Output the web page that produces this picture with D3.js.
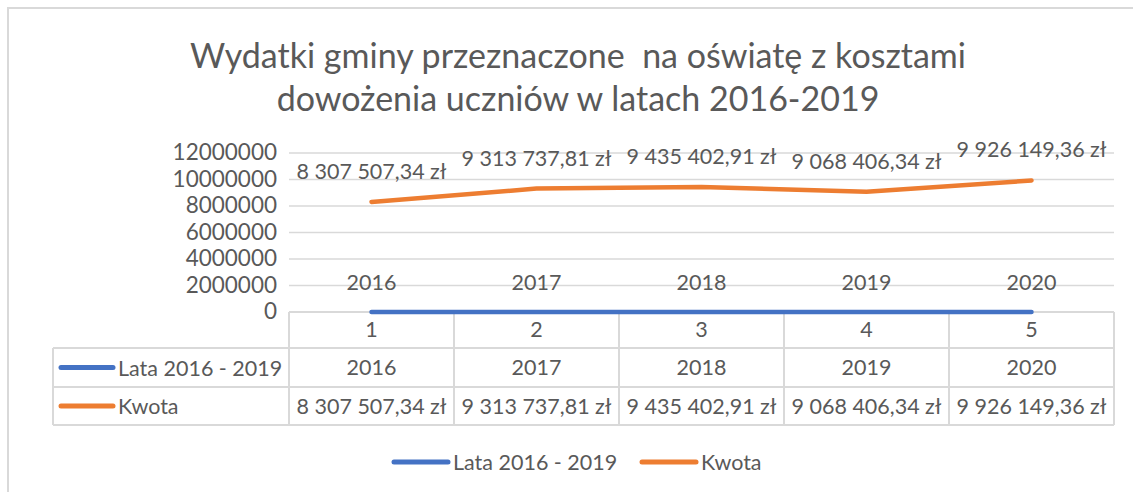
<!DOCTYPE html>
<html>
<head>
<meta charset="utf-8">
<script src="https://cdn.jsdelivr.net/npm/d3@7"></script>
<style>
  body { margin: 0; background: #fff; }
  svg text { font-family: Lato, "Open Sans", sans-serif; fill: #595959; }
</style>
</head>
<body>
<div id="chart"></div>
<script>
var categories = [1, 2, 3, 4, 5];
var years = [2016, 2017, 2018, 2019, 2020];
var amounts = [8307507.34, 9313737.81, 9435402.91, 9068406.34, 9926149.36];
var yTicks = [0, 2000000, 4000000, 6000000, 8000000, 10000000, 12000000];
var titleLines = ["Wydatki gminy przeznaczone  na oświatę z kosztami", "dowożenia uczniów w latach 2016-2019"];
var seriesNames = ["Lata 2016 - 2019", "Kwota"];
var seriesColors = ["#4472C4", "#ED7D31"];

var width = 1133, height = 492;
var plot = { left: 289, right: 1114, top: 153, bottom: 312 };
var rowH = [36, 39, 38]; // data table rows
var fs = "21.5px";

var pl = d3.formatLocale({ decimal: ",", thousands: "\u00a0", grouping: [3], currency: ["", " zł"] });
var fmtMoney = function(v) { return pl.format(",.2f")(v) + " zł"; };

var svg = d3.select("#chart").append("svg")
  .attr("width", width)
  .attr("height", height);

// outer chart frame (cut off right and bottom)
svg.append("path")
  .attr("d", "M8," + height + "V8H" + width)
  .attr("fill", "none")
  .attr("stroke", "#d9d9d9")
  .attr("stroke-width", 2);

// title
svg.append("g").selectAll("text")
  .data(titleLines)
  .enter().append("text")
  .attr("x", 578)
  .attr("y", function(d, i) { return 68 + i * 43; })
  .attr("text-anchor", "middle")
  .style("font-size", "34px")
  .style("white-space", "pre")
  .text(function(d) { return d; });

var x = d3.scaleBand()
  .domain(categories)
  .range([plot.left, plot.right]);

var y = d3.scaleLinear()
  .domain([0, 12000000])
  .range([plot.bottom, plot.top]);

// gridlines
svg.append("g").selectAll("line")
  .data(yTicks.slice(1))
  .enter().append("line")
  .attr("x1", plot.left).attr("x2", plot.right)
  .attr("y1", function(d) { return y(d); })
  .attr("y2", function(d) { return y(d); })
  .attr("stroke", "#d9d9d9")
  .attr("stroke-width", 1.5);

// y axis labels
svg.append("g").selectAll("text")
  .data(yTicks)
  .enter().append("text")
  .attr("x", 277)
  .attr("y", function(d) { return y(d) + 7; })
  .attr("text-anchor", "end")
  .style("font-size", "22.5px")
  .text(function(d) { return d; });

// data table
var t1 = plot.bottom, t2 = t1 + rowH[0], t3 = t2 + rowH[1], t4 = t3 + rowH[2];
var tbl = svg.append("g")
  .attr("stroke", "#d9d9d9")
  .attr("stroke-width", 2)
  .attr("fill", "none");

tbl.append("line").attr("x1", plot.left).attr("x2", plot.right).attr("y1", t1).attr("y2", t1);
tbl.append("line").attr("x1", 53).attr("x2", plot.right).attr("y1", t2).attr("y2", t2);
tbl.append("line").attr("x1", 53).attr("x2", plot.right).attr("y1", t3).attr("y2", t3);
tbl.append("line").attr("x1", 53).attr("x2", plot.right).attr("y1", t4).attr("y2", t4);
tbl.append("line").attr("x1", 53).attr("x2", 53).attr("y1", t2).attr("y2", t4);

var bounds = categories.map(function(c) { return x(c); }).concat([plot.right]);
tbl.selectAll(".vline")
  .data(bounds)
  .enter().append("line")
  .attr("x1", function(d) { return d; })
  .attr("x2", function(d) { return d; })
  .attr("y1", t1)
  .attr("y2", t4);

var cx = function(c) { return x(c) + x.bandwidth() / 2; };

svg.append("g").selectAll("text")
  .data(categories)
  .enter().append("text")
  .attr("x", cx)
  .attr("y", t1 + 25)
  .attr("text-anchor", "middle")
  .style("font-size", fs)
  .text(function(d) { return d; });

svg.append("g").selectAll("text")
  .data(categories)
  .enter().append("text")
  .attr("x", cx)
  .attr("y", t2 + 27)
  .attr("text-anchor", "middle")
  .style("font-size", fs)
  .text(function(d, i) { return years[i]; });

svg.append("g").selectAll("text")
  .data(categories)
  .enter().append("text")
  .attr("x", cx)
  .attr("y", t3 + 27)
  .attr("text-anchor", "middle")
  .style("font-size", fs)
  .text(function(d, i) { return fmtMoney(amounts[i]); });

// table legend keys
seriesNames.forEach(function(name, i) {
  var yy = (i == 0 ? (t2 + t3) / 2 : (t3 + t4) / 2);
  svg.append("line")
    .attr("x1", 61).attr("x2", 113)
    .attr("y1", yy).attr("y2", yy)
    .attr("stroke", seriesColors[i])
    .attr("stroke-width", 5)
    .attr("stroke-linecap", "round");
  svg.append("text")
    .attr("x", 118)
    .attr("y", yy + 8)
    .style("font-size", fs)
    .text(name);
});

// lines
var line = d3.line()
  .x(function(d) { return cx(d.c); })
  .y(function(d) { return y(d.v); });

var blueData = categories.map(function(c, i) { return { c: c, v: years[i] }; });
var orangeData = categories.map(function(c, i) { return { c: c, v: amounts[i] }; });

svg.append("path")
  .datum(blueData)
  .attr("fill", "none")
  .attr("stroke", seriesColors[0])
  .attr("stroke-width", 4.5)
  .attr("stroke-linecap", "round")
  .attr("d", line);

svg.append("path")
  .datum(orangeData)
  .attr("fill", "none")
  .attr("stroke", seriesColors[1])
  .attr("stroke-width", 4.5)
  .attr("stroke-linecap", "round")
  .attr("stroke-linejoin", "round")
  .attr("d", line);

// data labels
svg.append("g").selectAll("text")
  .data(blueData)
  .enter().append("text")
  .attr("x", function(d) { return cx(d.c); })
  .attr("y", function(d) { return y(d.v) - 22; })
  .attr("text-anchor", "middle")
  .style("font-size", fs)
  .text(function(d) { return d.v; });

svg.append("g").selectAll("text")
  .data(orangeData)
  .enter().append("text")
  .attr("x", function(d) { return cx(d.c); })
  .attr("y", function(d) { return y(d.v) - 23; })
  .attr("text-anchor", "middle")
  .style("font-size", fs)
  .text(function(d) { return fmtMoney(d.v); });

// bottom legend
var legendX = [394, 642];
seriesNames.forEach(function(name, i) {
  svg.append("line")
    .attr("x1", legendX[i]).attr("x2", legendX[i] + 54)
    .attr("y1", 462).attr("y2", 462)
    .attr("stroke", seriesColors[i])
    .attr("stroke-width", 5)
    .attr("stroke-linecap", "round");
  svg.append("text")
    .attr("x", legendX[i] + 59)
    .attr("y", 470)
    .style("font-size", fs)
    .text(name);
});
</script>
</body>
</html>
